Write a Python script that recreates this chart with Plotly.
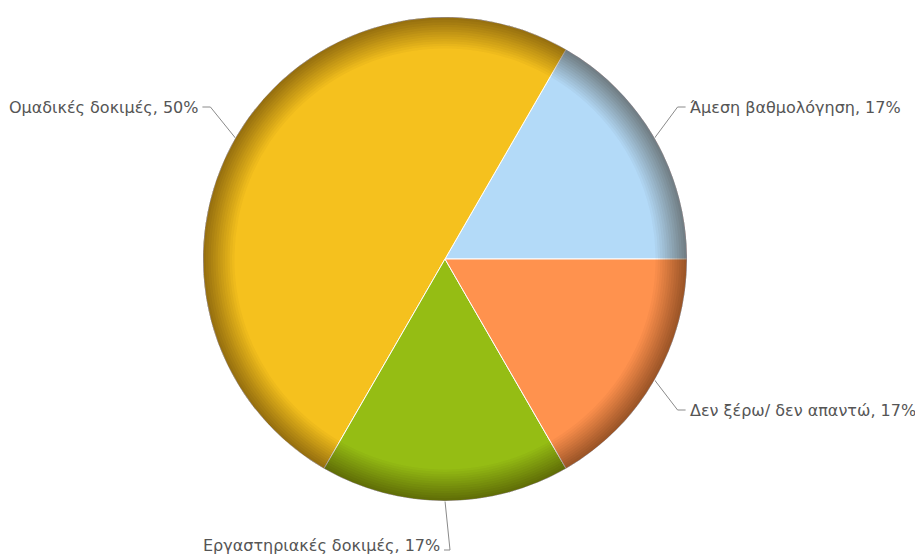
import math
import plotly.graph_objects as go

# Survey answers and their shares
labels = ["Άμεση βαθμολόγηση", "Ομαδικές δοκιμές", "Εργαστηριακές δοκιμές", "Δεν ξέρω/ δεν απαντώ"]
values = [1, 3, 1, 1]
colors = ["#B3DAF8", "#F5C11E", "#95BD14", "#FF924E"]

W, H = 915, 555
CX, CY, R = 445, 259, 242          # pie centre and radius in pixels
START_DEG = 0                      # first slice starts at 3 o'clock, counter-clockwise

# leader-line elbows relative to the slice edge point, and the label side
elbow_off = [(23, -31), (-25, -31), (5, 49), (23, 30)]
tail_dx = [8, -8, -6, 8]
text_dy = [0, 0, -5, 0]

dom_x = [(CX - R) / W, (CX + R) / W]
dom_y = [1 - (CY + R) / H, 1 - (CY - R) / H]

total = sum(values)
# plotly's counter-clockwise pies end the first slice at `rotation`
rotation = 90 - START_DEG - 360 * values[0] / total

fig = go.Figure()

fig.add_trace(go.Pie(
    labels=labels, values=values, sort=False, direction="counterclockwise",
    rotation=rotation, marker=dict(colors=colors, line=dict(color="white", width=1)),
    textinfo="none", hoverinfo="label+percent", showlegend=False,
    domain=dict(x=dom_x, y=dom_y),
))

# darker rim: many thin translucent rings build a soft bevel toward the edge
n_rings = 14
for k in range(n_rings):
    hole = 0.87 + 0.128 * k / (n_rings - 1)
    alpha = 0.035 + 0.02 * k / (n_rings - 1)
    fig.add_trace(go.Pie(
        values=[1], hole=hole, sort=False, textinfo="none", hoverinfo="skip",
        marker=dict(colors=[f"rgba(45,25,0,{alpha:.3f})"], line=dict(width=0)),
        showlegend=False, domain=dict(x=dom_x, y=dom_y),
    ))

cum = 0
annotations = []
for i, (lab, v) in enumerate(zip(labels, values)):
    mid = math.radians(START_DEG + 360 * (cum + v / 2) / total)
    cum += v
    ex, ey = CX + R * math.cos(mid), CY - R * math.sin(mid)
    bx, by = ex + elbow_off[i][0], ey + elbow_off[i][1]
    tx = bx + tail_dx[i]
    fig.add_trace(go.Scatter(
        x=[ex, bx, tx], y=[ey, by, by], mode="lines",
        line=dict(color="#8a8a8a", width=1), hoverinfo="skip", showlegend=False,
    ))
    pct = round(100 * v / total)
    right = tail_dx[i] > 0
    annotations.append(dict(
        x=tx + (2 if right else -2), y=by + text_dy[i], xref="x", yref="y",
        text=f"{lab}, {pct}%", showarrow=False,
        xanchor="left" if right else "right", yanchor="middle",
        font=dict(family="DejaVu Sans", size=16, color="#555555"),
    ))

fig.update_layout(
    width=W, height=H, margin=dict(l=0, r=0, t=0, b=0),
    paper_bgcolor="white", plot_bgcolor="rgba(0,0,0,0)",
    xaxis=dict(range=[0, W], visible=False, fixedrange=True),
    yaxis=dict(range=[H, 0], visible=False, fixedrange=True),
    annotations=annotations, showlegend=False,
)

fig.write_html("out.html")
